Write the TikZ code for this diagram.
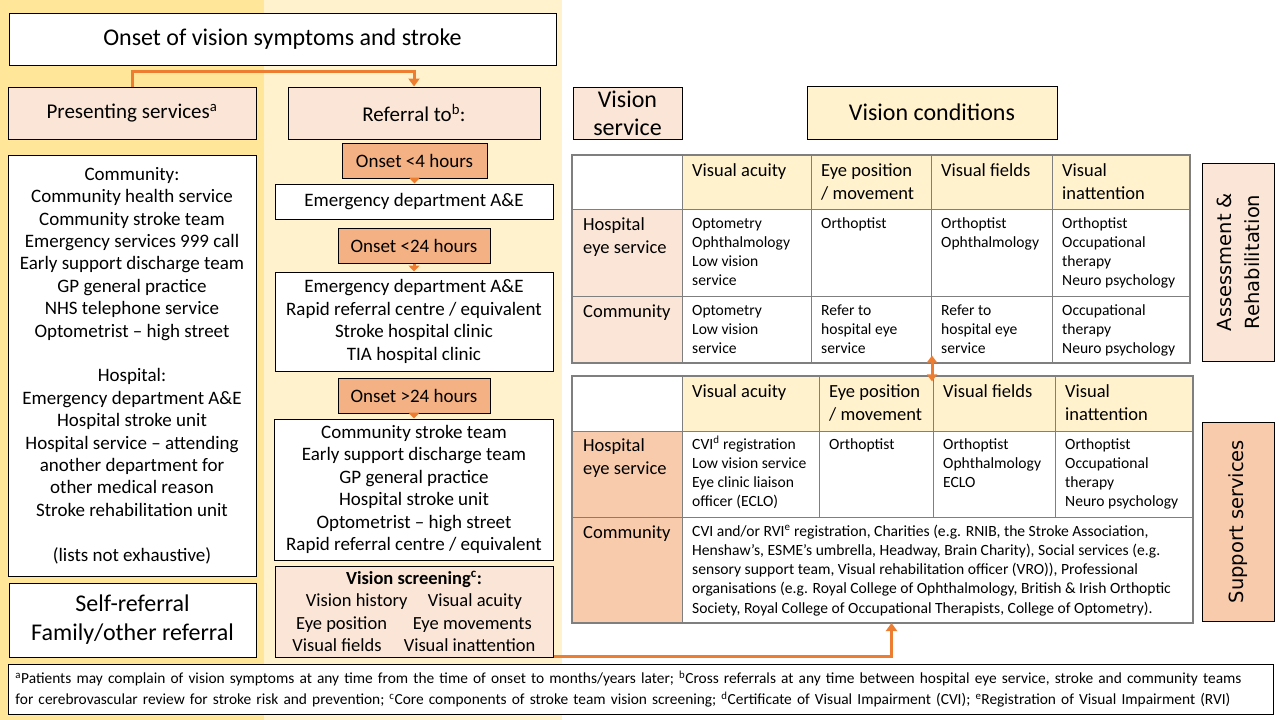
\documentclass[tikz,border=0pt]{standalone}
\usepackage{fontspec}
\setmainfont{Carlito}
\newfontfamily\sidefont{DejaVu Sans}
\usetikzlibrary{arrows.meta}
\usetikzlibrary{positioning}
\definecolor{bgdark}{HTML}{FFE699}
\definecolor{bglight}{HTML}{FFF2CC}
\definecolor{peach}{HTML}{FBE5D6}
\definecolor{peachdark}{HTML}{F8CBAD}
\definecolor{onsetfill}{HTML}{F4B183}
\definecolor{arroworange}{HTML}{ED7D31}
\definecolor{gridgray}{HTML}{7F7F7F}
\tikzset{
	>={Triangle[width=11pt,length=8pt]},
	box/.style={
		rectangle,
		draw=black, line width=1pt,
		fill=white,
		align=center,
		inner sep=2pt},
	headbox/.style={box, fill=peach, font=\fontsize{21}{27}\selectfont},
	onsetbox/.style={box, fill=onsetfill, font=\fontsize{19}{22}\selectfont},
	listbox/.style={box, font=\fontsize{19}{22.4}\selectfont},
	sidebox/.style={box, fill=peach, rotate=90, font=\sidefont\fontsize{19.5}{28}\selectfont},
	tablebox/.style={rectangle, draw=gridgray, line width=1.2pt, inner sep=0pt},
	grid/.style={draw=gridgray, line width=1pt},
	% base anchor of a multi-line text is the baseline of its last line
	celltext/.style={anchor=base west, align=left, inner sep=0pt, font=\fontsize{15.6}{19.3}\selectfont},
	cellhead/.style={celltext, font=\fontsize{18.5}{23}\selectfont},
	conn/.style={draw=arroworange, line width=3pt, ->},
	shortconn/.style={conn, -{Triangle[width=11pt,length=6pt]}},
	twoway/.style={conn, {Triangle[width=10pt,length=7pt]}-{Triangle[width=10pt,length=7pt]}},
}
\begin{document}
\begin{tikzpicture}[x=1pt, y=-1pt]
	\useasboundingbox (0,0) rectangle (1280,720);
	% column backgrounds
	\fill[white] (0,0) rectangle (1280,720);
	\fill[bgdark] (0,0) rectangle (264,720);
	\fill[bglight] (264,0) rectangle (562,720);

	% presenting and referral columns
	\node[box, minimum width=547, minimum height=52, font=\fontsize{24}{28}\selectfont] (onset) at (282.5,39) {Onset of vision symptoms and stroke};
	\node[headbox, minimum width=248, minimum height=52] (present) at (132,113) {Presenting services\textsuperscript{a}};
	\node[headbox, minimum width=252, minimum height=52] (referral) at (414,113) {Referral to\textsuperscript{b}:};
	\node[listbox, minimum width=248, minimum height=421] (presentlist) at (132,365.5) {Community:\\Community health service\\Community stroke team\\Emergency services 999 call\\Early support discharge team\\GP general practice\\NHS telephone service\\Optometrist – high street\\[22.4pt]Hospital:\\Emergency department A\&E\\Hospital stroke unit\\Hospital service – attending\\another department for\\other medical reason\\Stroke rehabilitation unit\\[22.4pt](lists not exhaustive)};
	\node[box, minimum width=247, minimum height=74, font=\fontsize{24}{29}\selectfont] (selfref) at (132.5,620) {Self-referral\\Family/other referral};
	\node[onsetbox, minimum width=145, minimum height=35] (four) at (414.5,160.5) {Onset <4 hours};
	\node[listbox, minimum width=278, minimum height=35] (ed) at (414,201.5) {Emergency department A\&E};
	\node[onsetbox, minimum width=152, minimum height=35] (twentyfour) at (414,245.5) {Onset <24 hours};
	\node[listbox, minimum width=278, minimum height=99] (within) at (414,321.5) {Emergency department A\&E\\Rapid referral centre / equivalent\\Stroke hospital clinic\\TIA hospital clinic};
	\node[onsetbox, minimum width=152, minimum height=35] (over) at (414,395.5) {Onset >24 hours};
	\node[listbox, minimum width=279, minimum height=141] (later) at (414,489.5) {Community stroke team\\Early support discharge team\\GP general practice\\Hospital stroke unit\\Optometrist – high street\\Rapid referral centre / equivalent};
	\node[listbox, fill=peach, minimum width=278, minimum height=91, font=\fontsize{18.5}{22.5}\selectfont] (screen) at (414,611.5) {\textbf{Vision screening\textsuperscript{c}:}\\Vision history\hspace{1.1em}Visual acuity\\Eye position\hspace{1.4em}Eye movements\\Visual fields\hspace{1.2em}Visual inattention};
	\node[box, minimum width=1265, minimum height=50, text width=1250, align=left, font=\fontsize{15.4}{21}\selectfont] (notes) at (640.5,689) {\textsuperscript{a}Patients may complain of vision symptoms at any time from the time of onset to months/years later; \textsuperscript{b}Cross referrals at any time between hospital eye service, stroke and community teams\\for cerebrovascular review for stroke risk and prevention; \textsuperscript{c}Core components of stroke team vision screening; \textsuperscript{d}Certificate of Visual Impairment (CVI); \textsuperscript{e}Registration of Visual Impairment (RVI)};

	% vision headers
	\node[headbox, minimum width=109, minimum height=52, font=\fontsize{24}{28}\selectfont] (vservice) at (627.5,113) {Vision\\service};
	\node[box, fill=bglight, minimum width=250, minimum height=53, font=\fontsize{24}{28}\selectfont] (vcond) at (932,112.5) {Vision conditions};

	% assessment table
	\fill[bglight] (682,155) rectangle (1190,209);
	\fill[peach] (572,209) rectangle (682,363);
	\draw[grid] (682,155) -- (682,363) (811,155) -- (811,363) (931,155) -- (931,363) (1052,155) -- (1052,363)
		(572,209) -- (1190,209) (572,296) -- (1190,296);
	\node[tablebox, minimum width=618, minimum height=208] (assesstab) at (881,259) {};
	\node[cellhead] (ahva) at (692,176) {Visual acuity};
	\node[cellhead] (ahep) at (821,199) {Eye position\\/ movement};
	\node[cellhead] (ahvf) at (941,176) {Visual fields};
	\node[cellhead] (ahvi) at (1062,199) {Visual\\inattention};
	\node[cellhead] (ahosp) at (583,253) {Hospital\\eye service};
	\node[cellhead] (acomm) at (583,317) {Community};
	\node[celltext] (ahosva) at (692,285.9) {Optometry\\Ophthalmology\\Low vision\\service};
	\node[celltext] (ahosep) at (821,228) {Orthoptist};
	\node[celltext] (ahosvf) at (941,247.3) {Orthoptist\\Ophthalmology};
	\node[celltext] (ahosvi) at (1062,285.9) {Orthoptist\\Occupational\\therapy\\Neuro psychology};
	\node[celltext] (acomva) at (692,353.6) {Optometry\\Low vision\\service};
	\node[celltext] (acomep) at (821,353.6) {Refer to\\hospital eye\\service};
	\node[celltext] (acomvf) at (941,353.6) {Refer to\\hospital eye\\service};
	\node[celltext] (acomvi) at (1062,353.6) {Occupational\\therapy\\Neuro psychology};
	\node[sidebox, minimum width=198, minimum height=72] (assess) at (1238,262) {Assessment \&\\Rehabilitation};

	% support table
	\fill[bglight] (682,376) rectangle (1193,431);
	\fill[peachdark] (572,431) rectangle (682,623);
	\draw[grid] (682,376) -- (682,623) (819,376) -- (819,517) (933,376) -- (933,517) (1055,376) -- (1055,517)
		(572,431) -- (1193,431) (572,517) -- (1193,517);
	\node[tablebox, minimum width=621, minimum height=247] (supporttab) at (882.5,499.5) {};
	\node[cellhead] (shva) at (692,397) {Visual acuity};
	\node[cellhead] (shep) at (829,420) {Eye position\\/ movement};
	\node[cellhead] (shvf) at (943,397) {Visual fields};
	\node[cellhead] (shvi) at (1065,420) {Visual\\inattention};
	\node[cellhead] (shosp) at (583,474) {Hospital\\eye service};
	\node[cellhead] (scomm) at (583,538) {Community};
	\node[celltext] (shosva) at (692,506.9) {CVI\textsuperscript{d} registration\\Low vision service\\Eye clinic liaison\\officer (ECLO)};
	\node[celltext] (shosep) at (829,449) {Orthoptist};
	\node[celltext] (shosvf) at (943,487.6) {Orthoptist\\Ophthalmology\\ECLO};
	\node[celltext] (shosvi) at (1065,506.9) {Orthoptist\\Occupational\\therapy\\Neuro psychology};
	\node[celltext] (scomall) at (692,613.2) {CVI and/or RVI\textsuperscript{e} registration, Charities (e.g. RNIB, the Stroke Association,\\Henshaw’s, ESME’s umbrella, Headway, Brain Charity), Social services (e.g.\\sensory support team, Visual rehabilitation officer (VRO)), Professional\\organisations (e.g. Royal College of Ophthalmology, British \& Irish Orthoptic\\Society, Royal College of Occupational Therapists, College of Optometry).};
	\node[sidebox, fill=peachdark, minimum width=199, minimum height=72] (support) at (1238,521.5) {Support services};

	% connectors
	\coordinate (screentarget) at (891.5,623);
	\draw[conn] (present.north) -- ++(0,-15) -| (referral.north);
	\draw[shortconn] (four.south) -- (four.south |- ed.north);
	\draw[shortconn] (twentyfour.south) -- (twentyfour.south |- within.north);
	\draw[shortconn] (over.south) -- (over.south |- later.north);
	\draw[twoway] ([yshift=8pt]vcond.south |- assesstab.south) -- ([yshift=-6pt]vcond.south |- supporttab.north);
	\draw[conn] ([yshift=1.5pt]screen.south east) -| (screentarget);
\end{tikzpicture}
\end{document}
